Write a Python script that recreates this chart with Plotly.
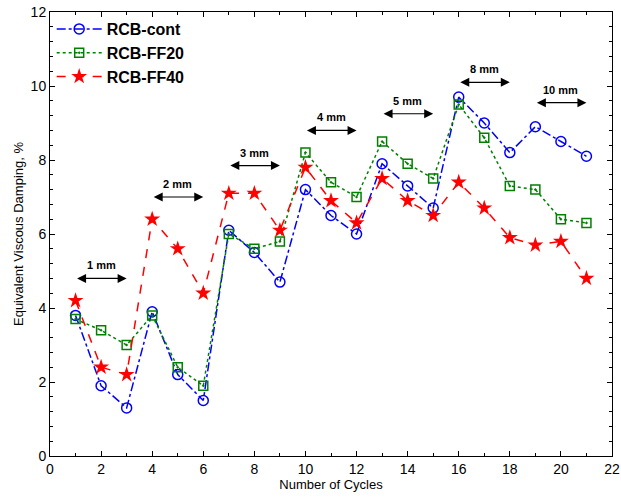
import plotly.graph_objects as go

cycles = list(range(1, 22))
rcb_cont = [3.8, 1.9, 1.3, 3.9, 2.2, 1.5, 6.1, 5.5, 4.7, 7.2, 6.5, 6.0, 7.9, 7.3, 6.7, 9.7, 9.0, 8.2, 8.9, 8.5, 8.1]
rcb_ff20 = [3.7, 3.4, 3.0, 3.8, 2.4, 1.9, 6.0, 5.6, 5.8, 8.2, 7.4, 7.0, 8.5, 7.9, 7.5, 9.5, 8.6, 7.3, 7.2, 6.4, 6.3]
rcb_ff40 = [4.2, 2.4, 2.2, 6.4, 5.6, 4.4, 7.1, 7.1, 6.1, 7.8, 6.9, 6.3, 7.5, 6.9, 6.5, 7.4, 6.7, 5.9, 5.7, 5.8, 4.8]

amp_labels = ["1 mm", "2 mm", "3 mm", "4 mm", "5 mm", "8 mm", "10 mm"]
amp_start = [1, 4, 7, 10, 13, 16, 19]
amp_end = [3, 6, 9, 12, 15, 18, 21]
amp_level = [4.8, 7.0, 7.85, 8.8, 9.25, 10.1, 9.55]

FONT = "Liberation Sans, Arial, sans-serif"

fig = go.Figure()
fig.add_trace(go.Scatter(x=cycles, y=rcb_cont, name="<b>RCB-cont</b>", mode="lines+markers",
                         line=dict(color="#0000ff", dash="dashdot", width=1.5),
                         marker=dict(symbol="circle-open", size=10, color="#0000ff", line=dict(width=1.5))))
fig.add_trace(go.Scatter(x=cycles, y=rcb_ff20, name="<b>RCB-FF20</b>", mode="lines+markers",
                         line=dict(color="#008000", dash="dot", width=1.5),
                         marker=dict(symbol="square-open-dot", size=9, color="#008000", line=dict(width=1.5))))
fig.add_trace(go.Scatter(x=cycles, y=rcb_ff40, name="<b>RCB-FF40</b>", mode="lines+markers",
                         line=dict(color="#ff0000", dash="dash", width=1.5),
                         marker=dict(symbol="star", size=12, color="#ff0000", line=dict(width=0))))

for lab, s, e, lv in zip(amp_labels, amp_start, amp_end, amp_level):
    fig.add_annotation(x=e, y=lv, ax=s, ay=lv, xref="x", yref="y", axref="x", ayref="y",
                       text="", showarrow=True, arrowhead=2, arrowside="end+start",
                       arrowsize=1.5, arrowwidth=1.2, arrowcolor="black")
    fig.add_annotation(x=(s + e) / 2, y=lv, xref="x", yref="y", text="<b>%s</b>" % lab,
                       showarrow=False, yshift=13, font=dict(family=FONT, size=11, color="black"))

axis_common = dict(showline=True, linecolor="black", linewidth=1, mirror="ticks",
                   ticks="inside", ticklen=5, tickcolor="black", showgrid=False, zeroline=False,
                   automargin=False,
                   tickfont=dict(family=FONT, size=14, color="black"))
fig.update_xaxes(range=[0, 22], dtick=2, tick0=0,
                 minor=dict(dtick=1, ticks="inside", ticklen=3, tickcolor="black"),
                 title=dict(text="Number of Cycles", font=dict(family=FONT, size=13, color="black"), standoff=2),
                 **axis_common)
fig.update_yaxes(range=[0, 12], dtick=2, tick0=0,
                 minor=dict(dtick=0.4, ticks="inside", ticklen=3, tickcolor="black"),
                 title=dict(text="Equivalent Viscous Damping, %", font=dict(family=FONT, size=13, color="black"), standoff=4),
                 **axis_common)

fig.update_layout(width=621, height=497, margin=dict(l=50, r=9, t=12, b=41),
                  paper_bgcolor="white", plot_bgcolor="white",
                  font=dict(family=FONT, color="black"),
                  legend=dict(x=0.003, y=1.0, xanchor="left", yanchor="top", bgcolor="rgba(0,0,0,0)",
                              font=dict(family=FONT, size=16, color="black"), itemwidth=45,
                              tracegroupgap=0))

fig.write_html("out.html", config={"displayModeBar": False},
               post_script="document.body.style.margin='0';")
